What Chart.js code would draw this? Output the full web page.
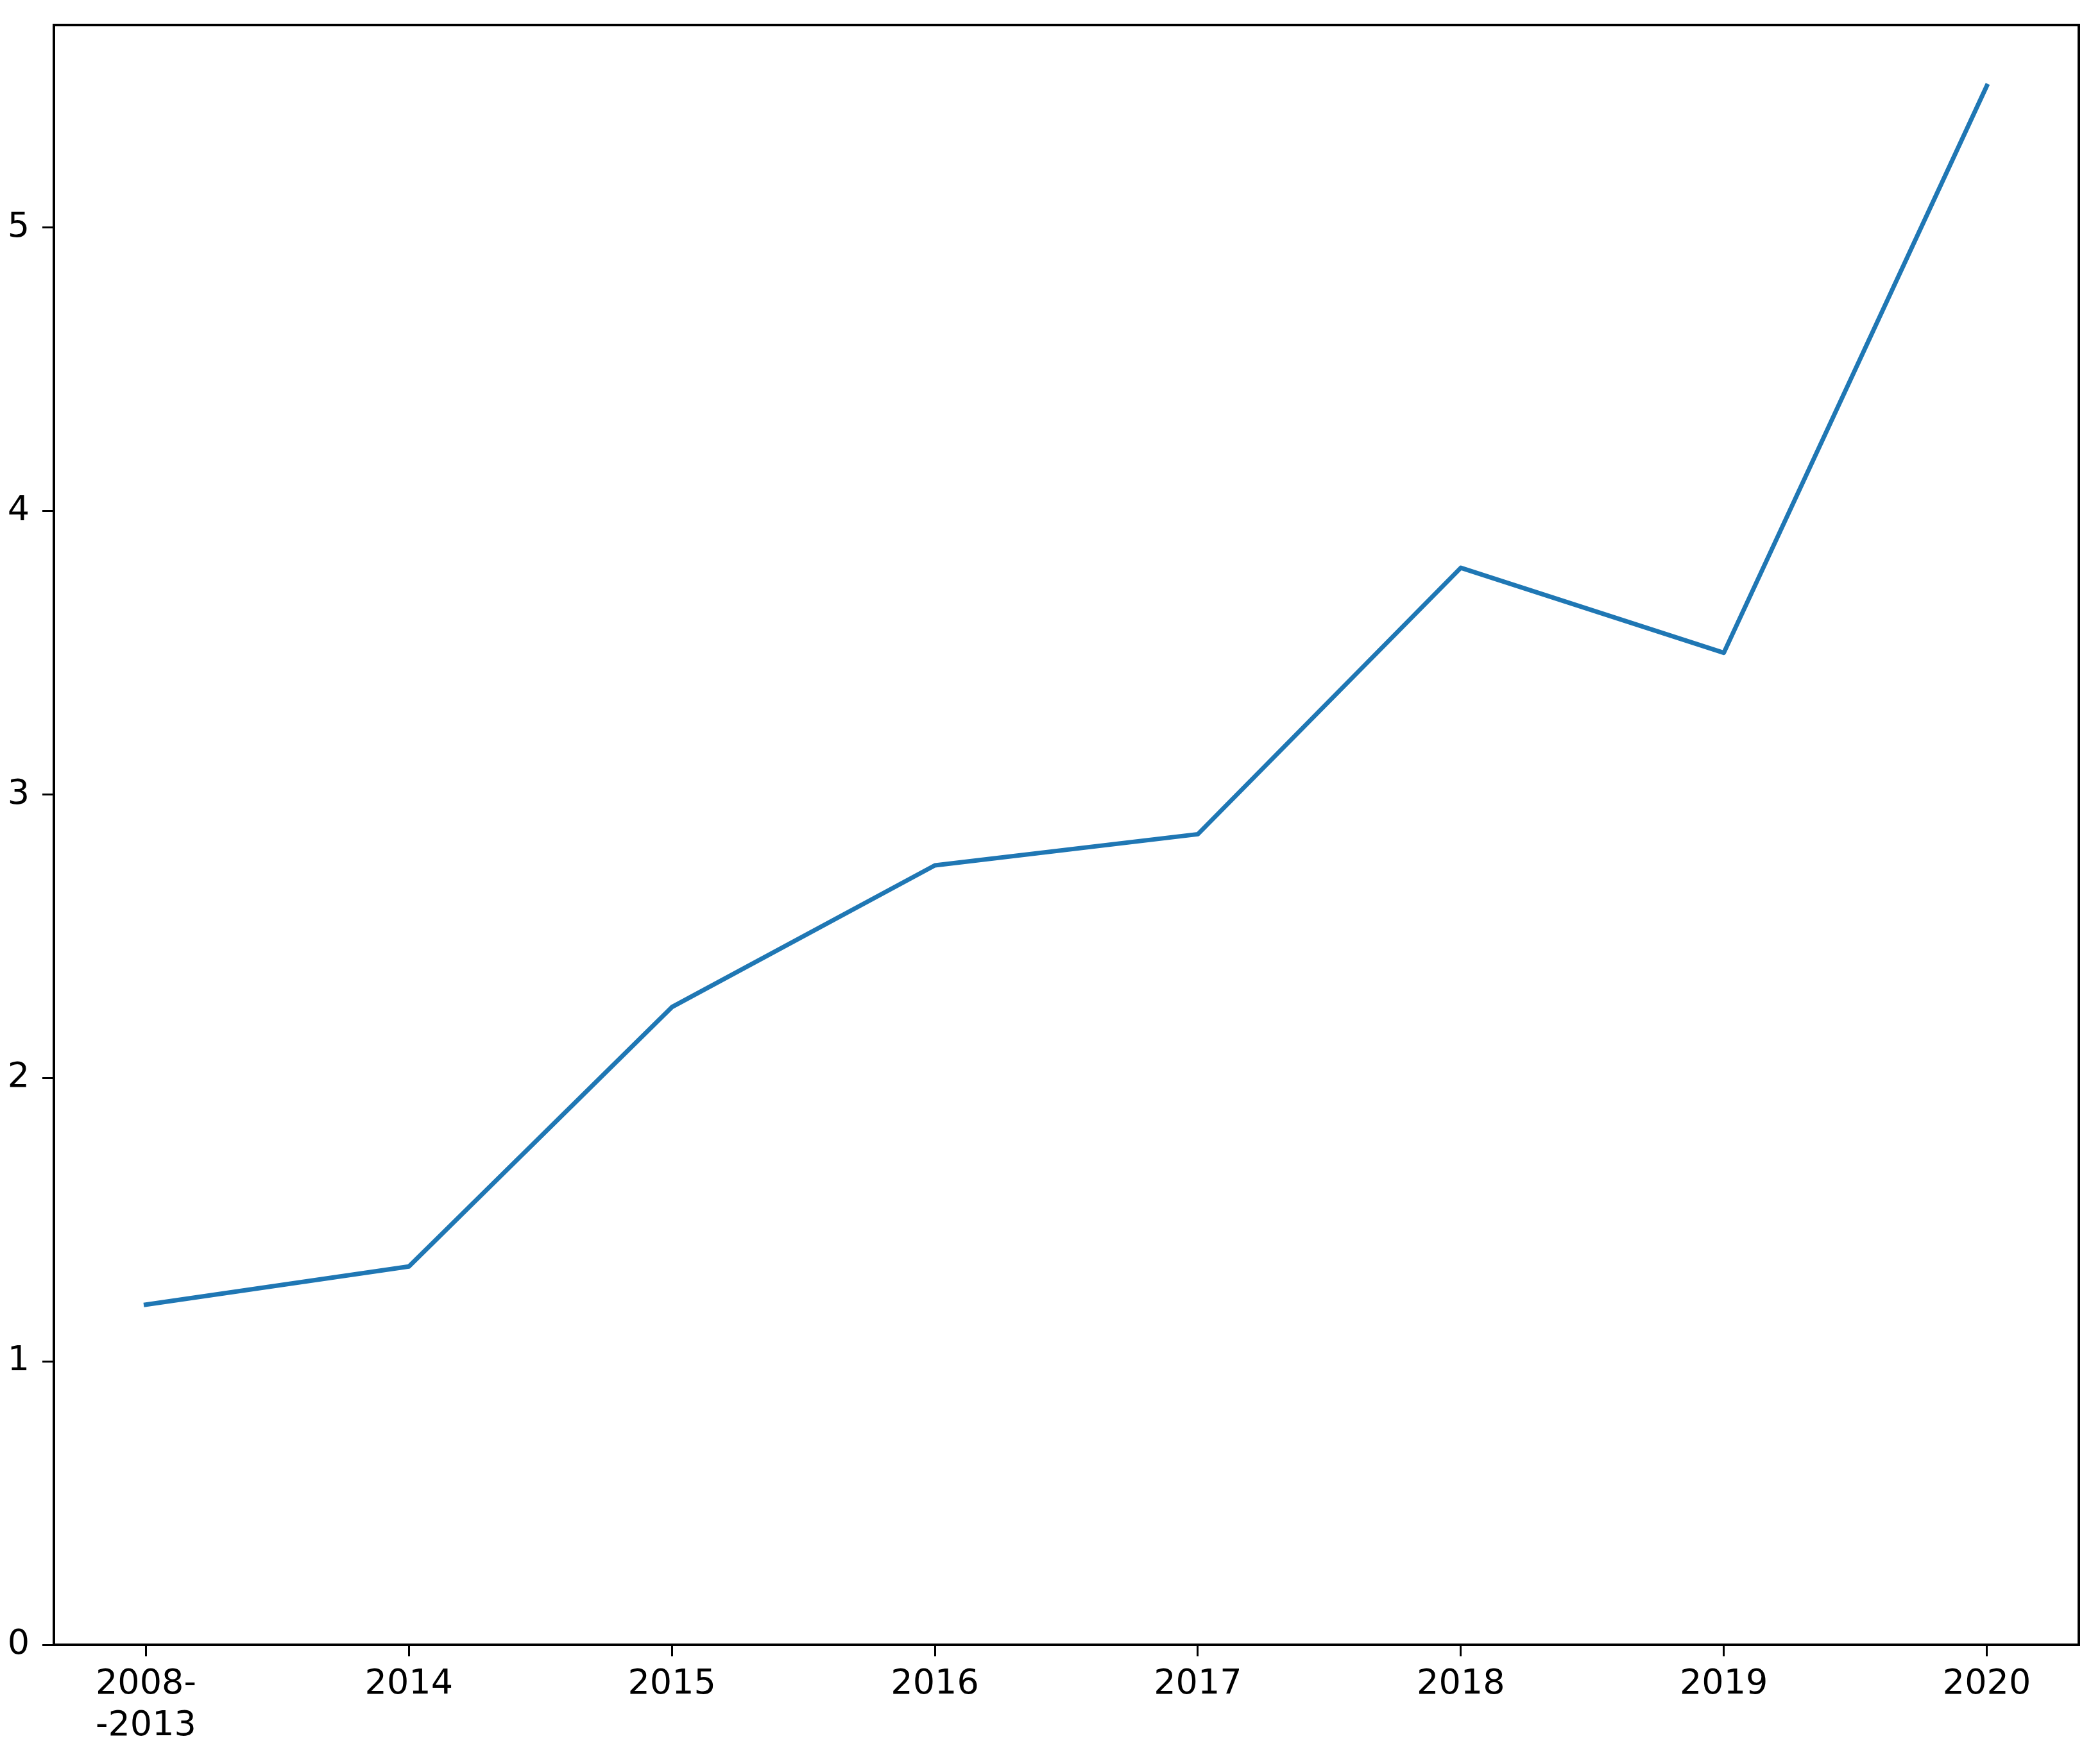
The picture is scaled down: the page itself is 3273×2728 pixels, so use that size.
<!DOCTYPE html>
<html>
<head>
    <title>Line chart</title>
    <script src="https://cdn.jsdelivr.net/npm/chart.js"></script>
    <style>
        body {
            margin: 0;
            padding: 0;
            background: #fff;
        }
        #chart-container {
            width: 3273px;
            height: 2728px;
        }
    </style>
</head>
<body>
    <div id="chart-container">
        <canvas id="myChart" width="3273" height="2728"></canvas>
    </div>

    <script>
        // data
        const categories = [['2008-', '-2013'], '2014', '2015', '2016', '2017', '2018', '2019', '2020'];
        const values = [1.2, 1.335, 2.25, 2.75, 2.86, 3.8, 3.5, 5.5];
        const yTicks = [0, 1, 2, 3, 4, 5];

        const points = values.map((v, i) => ({ x: i, y: v }));

        // matplotlib style box round the plot area
        const frame = {
            id: 'frame',
            afterDraw(chart) {
                const { ctx, chartArea } = chart;
                ctx.save();
                ctx.strokeStyle = '#000';
                ctx.lineWidth = 4;
                ctx.strokeRect(chartArea.left, chartArea.top,
                    chartArea.right - chartArea.left, chartArea.bottom - chartArea.top);
                ctx.restore();
            }
        };

        const font = { family: "'DejaVu Sans', sans-serif", size: 54 };

        new Chart(document.getElementById('myChart'), {
            type: 'line',
            data: {
                datasets: [{
                    data: points,
                    borderColor: '#1f77b4',
                    borderWidth: 7,
                    borderCapStyle: 'square',
                    borderJoinStyle: 'round',
                    pointRadius: 0,
                    tension: 0,
                    fill: false
                }]
            },
            options: {
                responsive: false,
                animation: false,
                devicePixelRatio: 1,
                layout: { padding: { top: 39, right: 33, left: 0, bottom: 0 } },
                plugins: {
                    legend: { display: false },
                    tooltip: { enabled: false }
                },
                scales: {
                    x: {
                        type: 'linear',
                        min: -0.35,
                        max: categories.length - 1 + 0.35,
                        afterBuildTicks: scale => {
                            scale.ticks = categories.map((_, i) => ({ value: i }));
                        },
                        afterFit: scale => {
                            scale.height = 164;
                            scale.paddingLeft = 0;
                            scale.paddingRight = 0;
                        },
                        ticks: {
                            autoSkip: false,
                            maxRotation: 0,
                            padding: 12,
                            color: '#000',
                            font: font,
                            callback: v => categories[v]
                        },
                        grid: {
                            drawOnChartArea: false,
                            drawTicks: true,
                            tickLength: 18,
                            tickWidth: 3,
                            tickColor: '#000'
                        },
                        border: { display: false }
                    },
                    y: {
                        min: 0,
                        max: 5.715,
                        afterBuildTicks: scale => {
                            scale.ticks = yTicks.map(v => ({ value: v }));
                        },
                        afterFit: scale => {
                            scale.width = 84;
                            scale.paddingTop = 0;
                            scale.paddingBottom = 0;
                        },
                        ticks: {
                            padding: 20,
                            color: '#000',
                            font: font
                        },
                        grid: {
                            drawOnChartArea: false,
                            drawTicks: true,
                            tickLength: 18,
                            tickWidth: 3,
                            tickColor: '#000'
                        },
                        border: { display: false }
                    }
                }
            },
            plugins: [frame]
        });
    </script>
</body>
</html>
